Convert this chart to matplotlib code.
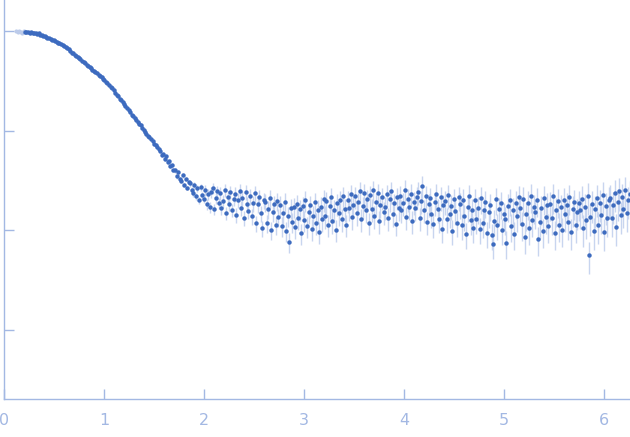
import numpy as np
import matplotlib
matplotlib.use("Agg")
import matplotlib.pyplot as plt
from matplotlib.ticker import NullLocator, FixedLocator, NullFormatter

# scattering vector grid of the used points
q_start = 0.21
q_step = 0.015

# log10 of intensity (10 points per row)
log_i = [
    -0.01, -0.01, -0.01, -0.02, -0.01, -0.02, -0.02, -0.02, -0.03, -0.02,
    -0.04, -0.04, -0.05, -0.05, -0.06, -0.07, -0.07, -0.08, -0.09, -0.09,
    -0.10, -0.11, -0.12, -0.12, -0.13, -0.14, -0.15, -0.16, -0.17, -0.18,
    -0.20, -0.22, -0.22, -0.24, -0.25, -0.26, -0.27, -0.28, -0.30, -0.31,
    -0.32, -0.34, -0.35, -0.36, -0.37, -0.39, -0.40, -0.41, -0.42, -0.44,
    -0.45, -0.46, -0.48, -0.49, -0.51, -0.52, -0.54, -0.56, -0.57, -0.59,
    -0.62, -0.64, -0.65, -0.68, -0.69, -0.71, -0.73, -0.75, -0.77, -0.79,
    -0.81, -0.84, -0.85, -0.87, -0.89, -0.91, -0.93, -0.94, -0.97, -0.99,
    -1.01, -1.03, -1.06, -1.07, -1.09, -1.11, -1.14, -1.15, -1.17, -1.19,
    -1.21, -1.25, -1.24, -1.29, -1.26, -1.32, -1.31, -1.36, -1.35, -1.40,
    -1.40, -1.46, -1.42, -1.49, -1.51, -1.45, -1.55, -1.49, -1.58, -1.52,
    -1.53, -1.60, -1.63, -1.55, -1.66, -1.58, -1.70, -1.57, -1.65, -1.69,
    -1.60, -1.74, -1.64, -1.77, -1.62, -1.58, -1.79, -1.68, -1.61, -1.73,
    -1.63, -1.78, -1.71, -1.60, -1.83, -1.67, -1.74, -1.62, -1.80, -1.69,
    -1.64, -1.85, -1.70, -1.61, -1.78, -1.68, -1.88, -1.62, -1.74, -1.81,
    -1.66, -1.86, -1.73, -1.63, -1.93, -1.74, -1.67, -1.83, -1.98, -1.70,
    -1.72, -1.93, -1.79, -1.68, -2.00, -1.82, -1.74, -1.95, -1.71, -1.87,
    -1.75, -1.96, -1.83, -1.72, -2.01, -1.86, -2.12, -1.78, -1.92, -1.77,
    -1.97, -1.74, -1.88, -1.79, -2.03, -1.76, -1.90, -1.70, -1.96, -1.82,
    -1.75, -1.99, -1.86, -1.72, -1.93, -1.80, -2.02, -1.77, -1.89, -1.69,
    -1.86, -1.71, -1.95, -1.76, -1.67, -1.91, -1.80, -2.00, -1.73, -1.83,
    -1.70, -1.89, -1.66, -1.79, -1.95, -1.70, -1.78, -1.64, -1.87, -1.75,
    -1.66, -1.83, -1.72, -1.61, -1.89, -1.76, -1.63, -1.80, -1.69, -1.93,
    -1.65, -1.79, -1.60, -1.86, -1.72, -1.63, -1.91, -1.75, -1.67, -1.82,
    -1.77, -1.64, -1.88, -1.69, -1.61, -1.84, -1.73, -1.94, -1.67, -1.78,
    -1.66, -1.80, -1.73, -1.60, -1.87, -1.69, -1.77, -1.64, -1.91, -1.72,
    -1.78, -1.67, -1.62, -1.88, -1.71, -1.56, -1.80, -1.66, -1.92, -1.74,
    -1.68, -1.84, -1.94, -1.72, -1.64, -1.79, -1.89, -1.67, -1.99, -1.75,
    -1.71, -1.89, -1.65, -1.84, -1.76, -2.01, -1.69, -1.81, -1.93, -1.67,
    -1.74, -1.95, -1.70, -1.86, -2.04, -1.77, -1.66, -1.90, -1.80, -1.98,
    -1.70, -1.89, -1.78, -1.99, -1.68, -1.93, -1.80, -1.72, -2.03, -1.82,
    -1.75, -2.05, -2.14, -1.91, -1.69, -1.95, -1.79, -1.73, -2.00, -1.84,
    -1.89, -2.13, -1.76, -1.70, -1.96, -1.80, -2.04, -1.73, -1.86, -1.67,
    -1.78, -1.94, -1.69, -2.07, -1.84, -1.73, -1.98, -1.66, -1.90, -1.77,
    -1.82, -1.70, -2.09, -1.92, -1.78, -2.01, -1.68, -1.87, -1.75, -1.96,
    -1.74, -1.88, -1.66, -2.03, -1.80, -1.71, -1.95, -1.77, -2.00, -1.70,
    -1.84, -1.75, -1.92, -1.67, -2.02, -1.79, -1.72, -1.95, -1.82, -1.73,
    -1.80, -1.69, -1.98, -1.77, -1.90, -1.66, -2.25, -1.87, -1.74, -2.01,
    -1.79, -1.68, -1.95, -1.73, -1.85, -1.65, -2.02, -1.76, -1.88, -1.70,
    -1.68, -1.88, -1.75, -1.63, -1.97, -1.72, -1.61, -1.85, -1.67, -1.79,
    -1.60, -1.83, -1.70, -1.64,
]

# relative error, one value per row of 10 points above
rel_err_rows = [
    0.01, 0.01, 0.01, 0.01, 0.01, 0.015, 0.015, 0.02, 0.02, 0.03,
    0.05, 0.08, 0.12, 0.15, 0.17, 0.19, 0.21, 0.23, 0.24, 0.25,
    0.25, 0.25, 0.25, 0.25, 0.25, 0.26, 0.26, 0.27, 0.28, 0.29,
    0.30, 0.30, 0.31, 0.32, 0.33, 0.33, 0.34, 0.35, 0.35, 0.36,
    0.36,
]

# first points, excluded from the analysis (drawn pale)
q_excl = [0.12, 0.135, 0.15, 0.165, 0.18, 0.195]
log_i_excl = [0.00, -0.01, 0.00, -0.01, -0.02, 0.00]

q = q_start + q_step * np.arange(len(log_i))
inten = 10.0 ** np.array(log_i)
rel = np.repeat(rel_err_rows, 10)[:len(log_i)]
err = inten * rel
inten_excl = 10.0 ** np.array(log_i_excl)
err_excl = inten_excl * 0.01

axis_col = "#a3b8e3"
dot_col = "#3d6bbf"
bar_col = "#c8d5ef"

fig = plt.figure(figsize=(6.3, 4.37), dpi=100)
ax = fig.add_axes([4 / 630, 38 / 437, 626 / 630, 399 / 437])

ax.errorbar(q_excl, inten_excl, yerr=err_excl, fmt="o", ms=3, mew=0,
            color="#bccbea", ecolor="#dde5f5", elinewidth=1, zorder=2)
ax.errorbar(q, inten, yerr=err, fmt="none", ecolor=bar_col,
            elinewidth=1, zorder=2)
ax.plot(q, inten, "o", ms=3.2, mew=0, color=dot_col, zorder=3)

ax.set_yscale("log")
ax.set_xlim(0, 6.26)
ax.set_ylim(10 ** -3.698, 10 ** 0.3116)

ax.yaxis.set_major_locator(FixedLocator([1, 0.1, 0.01, 0.001]))
ax.yaxis.set_minor_locator(NullLocator())
ax.yaxis.set_major_formatter(NullFormatter())
ax.yaxis.set_minor_formatter(NullFormatter())
ax.set_xticks([0, 1, 2, 3, 4, 5, 6])

for s in ["top", "right"]:
    ax.spines[s].set_visible(False)
for s in ["left", "bottom"]:
    ax.spines[s].set_color(axis_col)
    ax.spines[s].set_linewidth(1)

ax.tick_params(axis="both", direction="in", length=7, width=1,
               color=axis_col, labelcolor=axis_col, labelsize=11.5)
ax.tick_params(axis="x", pad=10)
ax.tick_params(axis="y", left=True, labelleft=False)

fig.savefig("out.png", dpi=100)
